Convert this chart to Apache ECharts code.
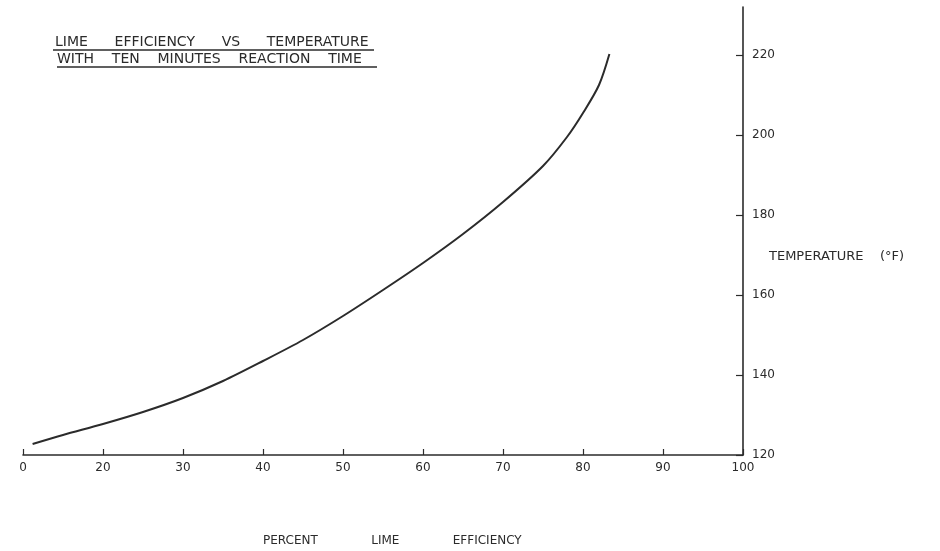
<!DOCTYPE html>
<html>
<head>
<meta charset="utf-8">
<script src="https://cdn.jsdelivr.net/npm/echarts@6/dist/echarts.min.js"></script>
<style>
html,body{margin:0;padding:0;background:#fff;}
#chart{width:940px;height:551px;}
</style>
</head>
<body>
<div id="chart"></div>
<script>
// Percent lime efficiency (axis value; the first tick labelled "0" sits at value 10)
const efficiency = [11.2, 15, 20, 25, 30, 35, 40, 45, 50, 55, 60, 65, 70, 75, 78, 80, 82, 83.3];
// Temperature (°F)
const temperature = [122.75, 125, 127.75, 130.75, 134.25, 138.5, 143.5, 148.75, 154.75, 161.25, 168, 175.25, 183.25, 192.25, 199.5, 205.5, 212.5, 220.25];

const xTickValues = [10, 20, 30, 40, 50, 60, 70, 80, 90, 100];
const xTickLabels = ['0', '20', '30', '40', '50', '60', '70', '80', '90', '100'];
const yTickValues = [120, 140, 160, 180, 200, 220];

const titleLine1 = 'LIME      EFFICIENCY      VS      TEMPERATURE';
const titleLine2 = 'WITH    TEN    MINUTES    REACTION    TIME';
const xName = 'PERCENT              LIME              EFFICIENCY';
const yName = 'TEMPERATURE    (°F)';

const ink = '#2b2b2b';
const font = '"DejaVu Sans", sans-serif';

const chart = echarts.init(document.getElementById('chart'), null, {renderer: 'canvas'});
chart.setOption({
  backgroundColor: '#ffffff',
  animation: false,
  grid: {left: 23, right: 197, top: 7, bottom: 96, containLabel: false},
  xAxis: {
    type: 'value',
    min: 10, max: 100, interval: 10,
    axisLine: {show: true, onZero: false, lineStyle: {color: ink, width: 1.6}},
    axisTick: {show: true, inside: true, length: 6, lineStyle: {color: ink, width: 1.2}},
    axisLabel: {
      color: ink, fontFamily: font, fontSize: 12, margin: 7,
      formatter: function (v) {
        const i = xTickValues.indexOf(v);
        return i >= 0 ? xTickLabels[i] : '';
      }
    },
    splitLine: {show: false}
  },
  yAxis: {
    type: 'value',
    position: 'right',
    min: 120, max: 232, interval: 20,
    axisLine: {show: true, onZero: false, lineStyle: {color: ink, width: 1.6}},
    axisTick: {show: true, inside: true, length: 7, customValues: yTickValues, lineStyle: {color: ink, width: 1.2}},
    axisLabel: {color: ink, fontFamily: font, fontSize: 12, margin: 9, customValues: yTickValues},
    splitLine: {show: false}
  },
  series: [{
    type: 'line',
    data: efficiency.map((x, i) => [x, temperature[i]]),
    smooth: 0.3,
    showSymbol: false,
    symbol: 'none',
    lineStyle: {color: ink, width: 2}
  }],
  graphic: [
    {type: 'text', x: 55, y: 42, style: {text: titleLine1, font: '14px ' + font, fill: ink, verticalAlign: 'middle', align: 'left'}},
    {type: 'line', shape: {x1: 53, y1: 50, x2: 374, y2: 50}, style: {stroke: ink, lineWidth: 1.4}},
    {type: 'text', x: 57, y: 59, style: {text: titleLine2, font: '14px ' + font, fill: ink, verticalAlign: 'middle', align: 'left'}},
    {type: 'line', shape: {x1: 57, y1: 67, x2: 377, y2: 67}, style: {stroke: ink, lineWidth: 1.4}},
    {type: 'text', x: 769, y: 257, style: {text: yName, font: '13px ' + font, fill: ink, verticalAlign: 'middle', align: 'left'}},
    {type: 'text', x: 263, y: 541, style: {text: xName, font: '12px ' + font, fill: ink, verticalAlign: 'middle', align: 'left'}}
  ]
});
</script>
</body>
</html>
